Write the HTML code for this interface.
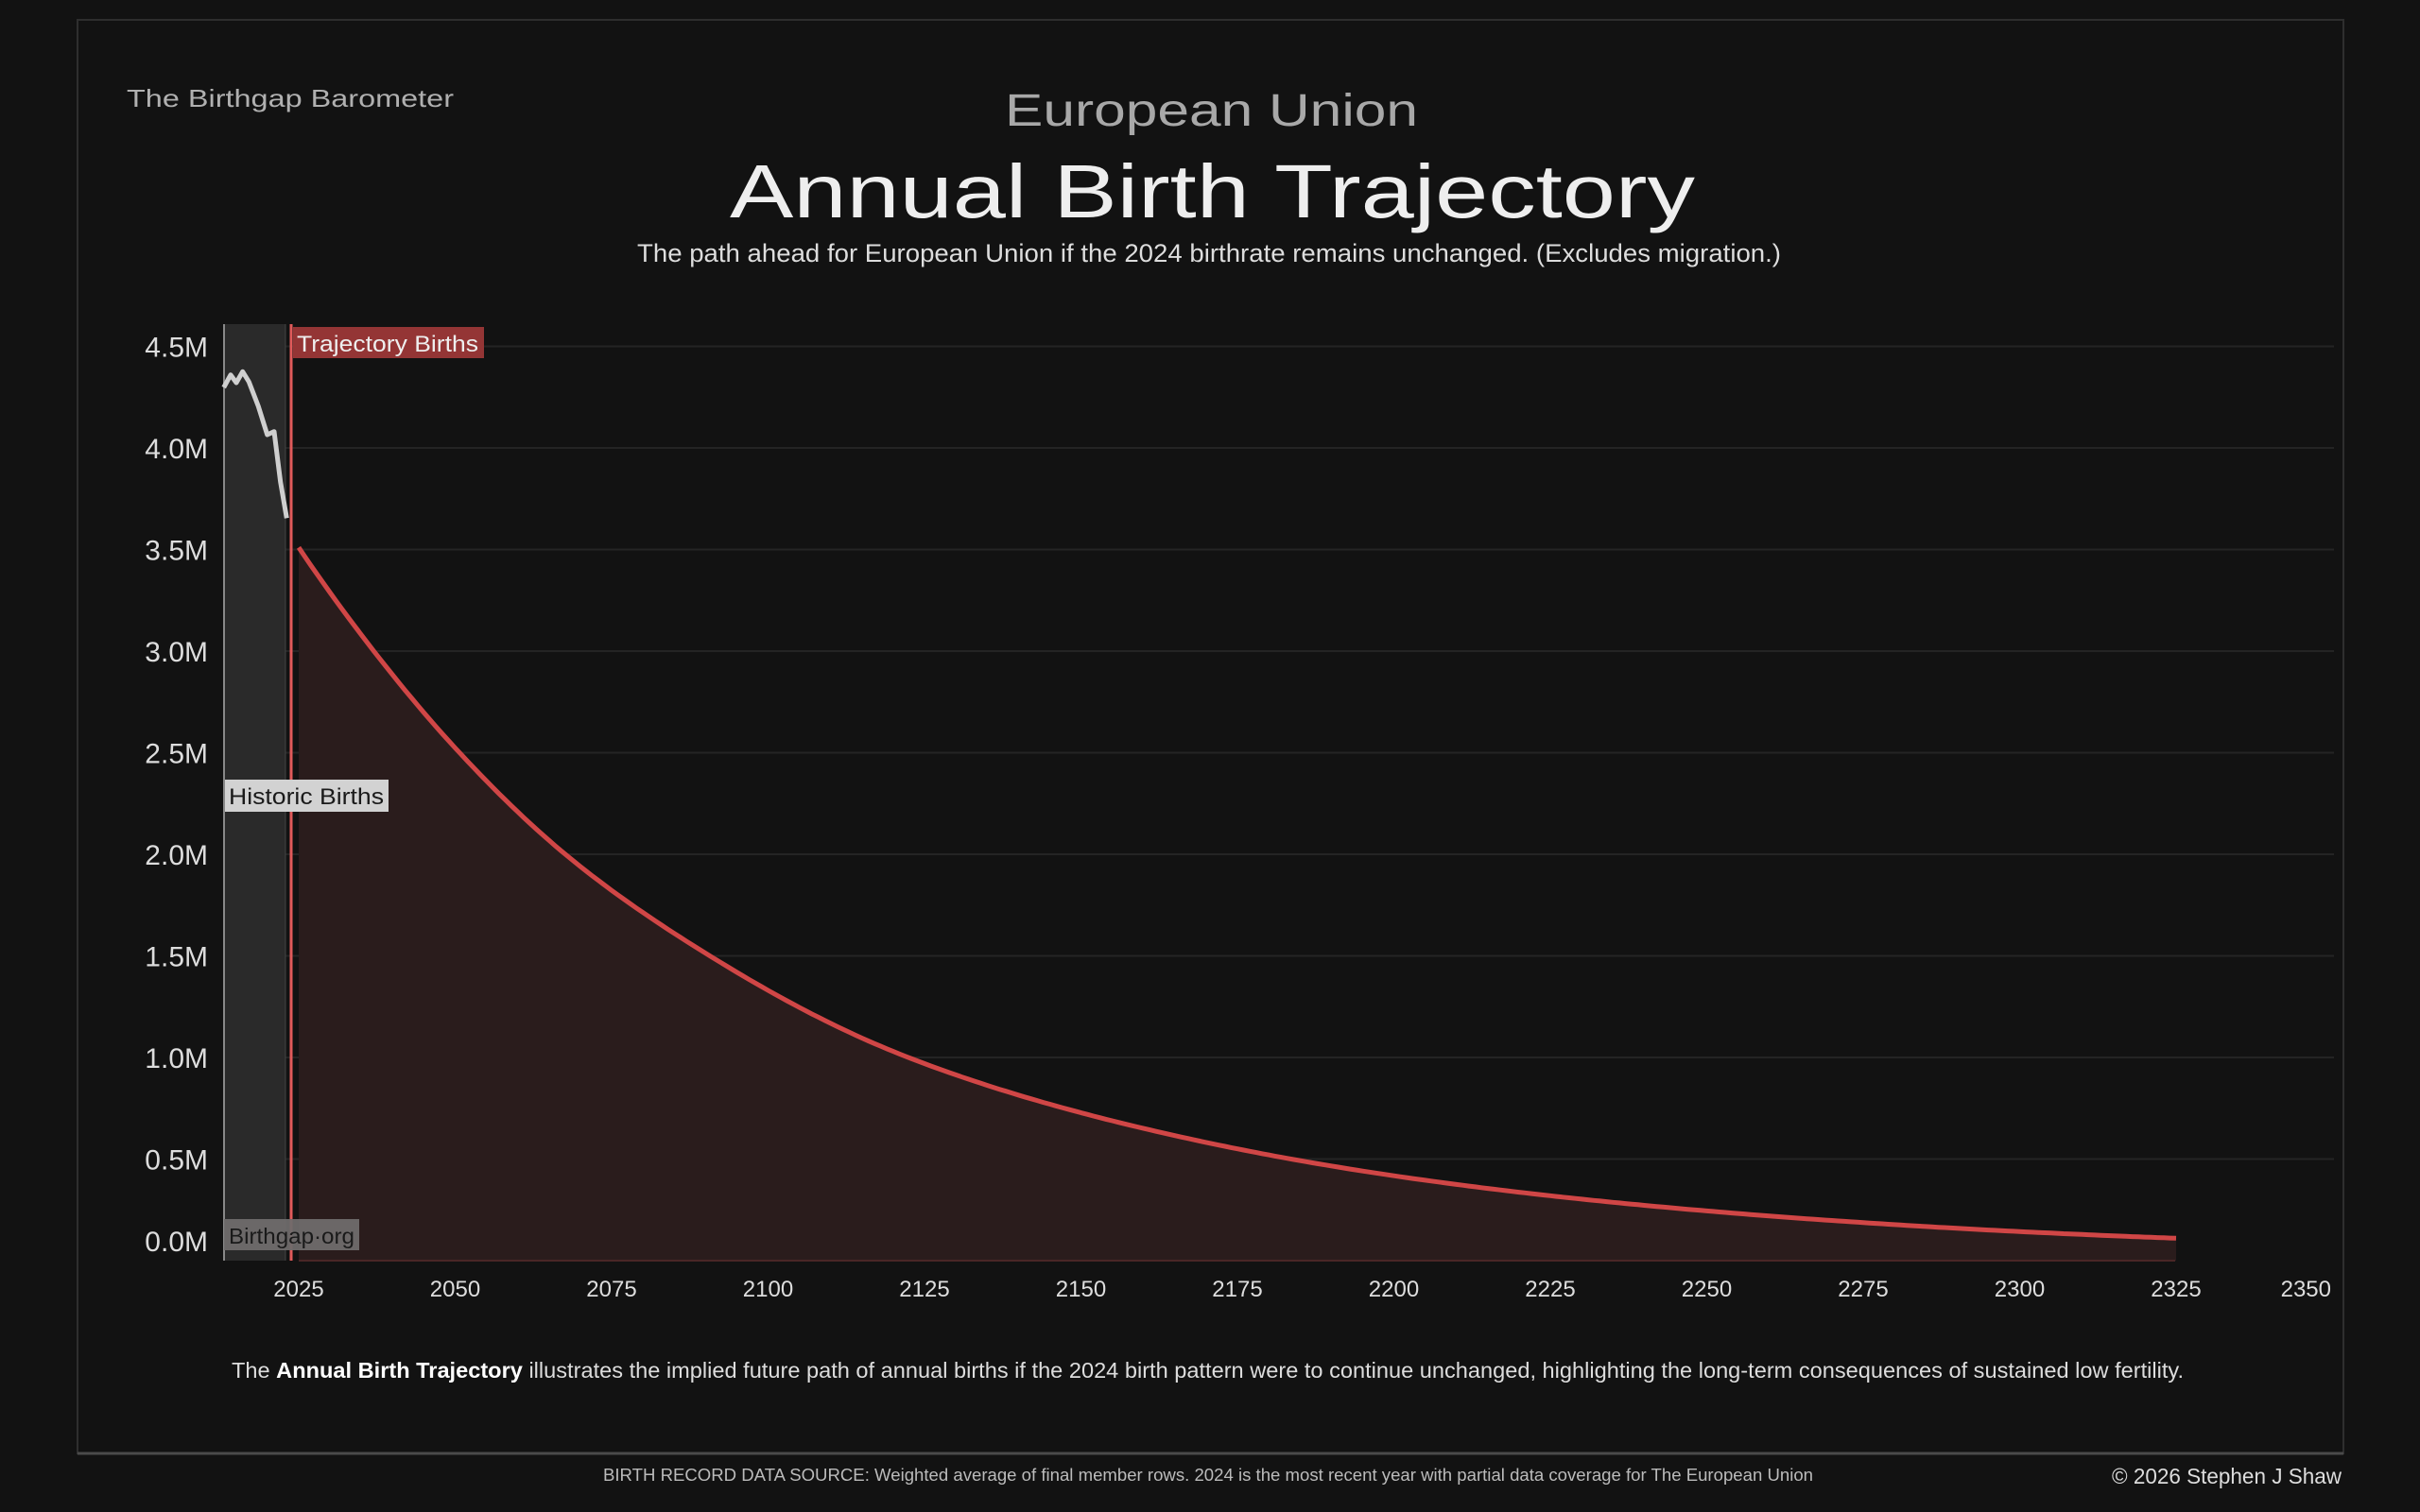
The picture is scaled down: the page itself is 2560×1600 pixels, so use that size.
<!DOCTYPE html>
<html><head><meta charset="utf-8"><style>
html,body{margin:0;padding:0;background:#121212;}
svg{display:block;font-family:"Liberation Sans","DejaVu Sans",sans-serif;}
</style></head><body>
<svg id="s" width="2560" height="1600" viewBox="0 0 2560 1600" xmlns="http://www.w3.org/2000/svg">
<rect width="2560" height="1600" fill="#121212"/>
<rect x="82" y="21" width="2397" height="1517" fill="none" stroke="#2e2e2e" stroke-width="2"/>
<line x1="82" y1="1538" x2="2479" y2="1538" stroke="#4a4a4a" stroke-width="3"/>

<text x="134" y="113" font-size="26" fill="#b0b0b0" textLength="346" lengthAdjust="spacingAndGlyphs">The Birthgap Barometer</text>
<text x="1063" y="133" font-size="48" fill="#a8a8a8" textLength="437" lengthAdjust="spacingAndGlyphs">European Union</text>
<text x="772" y="230" font-size="80" fill="#eeeeee" textLength="1021" lengthAdjust="spacingAndGlyphs">Annual Birth Trajectory</text>
<text x="674" y="277" font-size="27" fill="#dddddd" textLength="1210" lengthAdjust="spacingAndGlyphs">The path ahead for European Union if the 2024 birthrate remains unchanged.  (Excludes migration.)</text>

<g id="grid" stroke="#242424" stroke-width="2"></g>
<rect x="237" y="343" width="65" height="991" fill="#2a2a2a"/>
<line x1="237" y1="343" x2="237" y2="1334" stroke="#888" stroke-width="2"/>
<line x1="302" y1="343" x2="302" y2="1334" stroke="#444" stroke-width="1"/>
<path id="hist" fill="none" stroke="#cfcfcf" stroke-width="5" stroke-linejoin="round"/>
<path id="trajFill" fill="#2a1c1c"/>
<path id="traj" fill="none" stroke="#d04646" stroke-width="5"/>
<line x1="316" y1="1334" x2="2301" y2="1334" stroke="#4a2626" stroke-width="2"/>
<line x1="308" y1="343" x2="308" y2="1334" stroke="#e05a5a" stroke-width="3"/>

<rect x="310" y="346" width="202" height="33" fill="#943535"/>
<text x="314" y="372" font-size="24" fill="#eeeeee" textLength="192" lengthAdjust="spacingAndGlyphs">Trajectory Births</text>
<rect x="238" y="825" width="173" height="34" fill="#d2d2d2"/>
<text x="242" y="851" font-size="24" fill="#1a1a1a" textLength="164" lengthAdjust="spacingAndGlyphs">Historic Births</text>
<rect x="237" y="1290" width="143" height="33" fill="#6f6b6b" opacity="0.95"/>
<text x="242" y="1316" font-size="23" fill="#1a1a1a" textLength="133" lengthAdjust="spacingAndGlyphs">Birthgap·org</text>

<g id="ylab" font-size="30" fill="#dddddd" text-anchor="end"></g>
<g id="xlab" font-size="24" fill="#dddddd" text-anchor="middle"></g>

<text x="245" y="1458" font-size="23" fill="#dddddd" textLength="2065" lengthAdjust="spacingAndGlyphs">The <tspan font-weight="bold" fill="#ffffff">Annual Birth Trajectory</tspan> illustrates the implied future path of annual births if the 2024 birth pattern were to continue unchanged, highlighting the long-term consequences of sustained low fertility.</text>
<text x="638" y="1567" font-size="18" fill="#bbbbbb" textLength="1280" lengthAdjust="spacingAndGlyphs">BIRTH RECORD DATA SOURCE: Weighted average of final member rows. 2024 is the most recent year with partial data coverage for The European Union</text>
<text x="2477" y="1570" font-size="23" fill="#dddddd" text-anchor="end" textLength="243" lengthAdjust="spacingAndGlyphs">© 2026 Stephen J Shaw</text>
</svg>
<script>
var NS="http://www.w3.org/2000/svg";
function Y(v){return 1334-v*215;}
function X(yr){return 316+(yr-2025)*6.62;}
var g=document.getElementById('grid'),yl=document.getElementById('ylab'),xl=document.getElementById('xlab');
for(var i=1;i<=9;i++){var v=i*0.5;var l=document.createElementNS(NS,'line');l.setAttribute('x1',237);l.setAttribute('x2',2469);l.setAttribute('y1',Y(v));l.setAttribute('y2',Y(v));g.appendChild(l);}
for(var i=0;i<=9;i++){var v=i*0.5;var t=document.createElementNS(NS,'text');t.setAttribute('x',220);t.setAttribute('y',(i==0?1313:Y(v))+11);t.textContent=v.toFixed(1)+'M';yl.appendChild(t);}
for(var yr=2025;yr<=2350;yr+=25){var t=document.createElementNS(NS,'text');var x=X(yr);if(yr==2350){t.setAttribute('text-anchor','end');x=2466;}t.setAttribute('x',x);t.setAttribute('y',1372);t.textContent=yr;xl.appendChild(t);}
var hz=[[350,240],[372,200],[390,225],[410,190],[430,222],[460,300],[488,390],[510,380],[530,540],[550,655]];
var d='';hz.forEach(function(p,i){d+=(i?'L':'M')+(120+p[0]/3).toFixed(1)+','+(330+p[1]/3).toFixed(1);});
document.getElementById('hist').setAttribute('d',d);
var kp=[[2025,3.51],[2036.5,3.02],[2050.4,2.51],[2067.6,2.0],[2090.7,1.5],[2122,1.005],[2168,0.595],[2204,0.40],[2260,0.22],[2300,0.143],[2325,0.11]];
function val(yr){for(var i=0;i<kp.length-1;i++){if(yr<=kp[i+1][0]){var a=kp[i],b=kp[i+1];var t=(yr-a[0])/(b[0]-a[0]);
 var la=Math.log(a[1]),lb=Math.log(b[1]);
 var p0=i>0?kp[i-1]:a,p3=i<kp.length-2?kp[i+2]:b;
 var m1=(lb-Math.log(p0[1]))/(b[0]-p0[0])*(b[0]-a[0]);var m2=(Math.log(p3[1])-la)/(p3[0]-a[0])*(b[0]-a[0]);
 var t2=t*t,t3=t2*t;var h=(2*t3-3*t2+1)*la+(t3-2*t2+t)*m1+(-2*t3+3*t2)*lb+(t3-t2)*m2;return Math.exp(h);}}return kp[kp.length-1][1];}
var td='';for(var yr=2025;yr<=2325;yr++){td+=(yr==2025?'M':'L')+X(yr).toFixed(1)+','+Y(val(yr)).toFixed(1);}
document.getElementById('traj').setAttribute('d',td);
document.getElementById('trajFill').setAttribute('d',td+'L'+X(2325).toFixed(1)+',1334L316,1334Z');
</script>
</body></html>
